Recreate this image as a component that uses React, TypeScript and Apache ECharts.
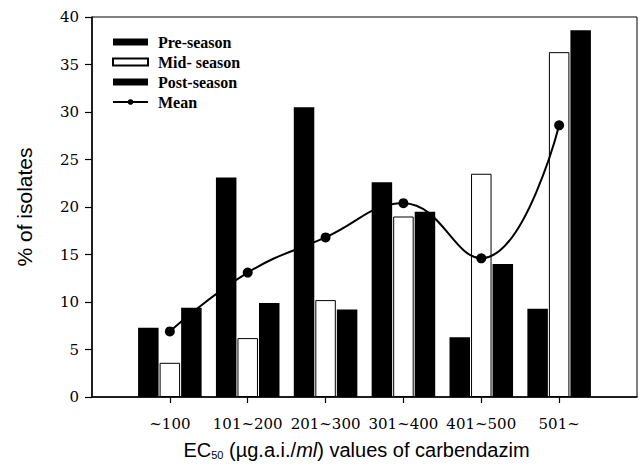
import React, { useEffect, useRef } from "react";
import * as echarts from "echarts";

const categories = ["~100", "101~200", "201~300", "301~400", "401~500", "501~"];
const categoryPositions = [1, 2, 3, 4, 5, 6];
const preSeason = [7.3, 23.1, 30.5, 22.6, 6.3, 9.3];
const midSeason = [3.6, 6.2, 10.2, 19.0, 23.5, 36.3];
const postSeason = [9.4, 9.9, 9.2, 19.5, 14.0, 38.6];
const meanValues = [6.9, 13.1, 16.8, 20.4, 14.6, 28.6];
const seriesNames = ["Pre-season", "Mid- season", "Post-season", "Mean"];

const SERIF = "'Liberation Serif', 'Times New Roman', serif";
const WIDE_SERIF = "'DejaVu Serif', serif";
const SANS = "'Liberation Sans', Arial, sans-serif";

function pairs(values: number[]) {
  return values.map((v, i) => [categoryPositions[i], v]);
}

export default function App() {
  const ref = useRef<HTMLDivElement>(null);

  useEffect(() => {
    document.body.style.margin = "0";
    if (!ref.current) return;
    const chart = echarts.init(ref.current, undefined, { renderer: "svg" });
    const barCommon = {
      type: "bar" as const,
      barWidth: 20.5,
      barGap: "5%",
    };
    chart.setOption({
      animation: false,
      backgroundColor: "#ffffff",
      grid: {
        left: 92,
        right: 7,
        top: 17,
        bottom: 78,
        show: true,
        borderColor: "#000",
        borderWidth: 1,
        backgroundColor: "transparent",
      },
      legend: {
        orient: "vertical",
        left: 112,
        top: 34,
        padding: 0,
        itemWidth: 35,
        itemHeight: 7,
        itemGap: 4,
        data: [
          { name: seriesNames[0], icon: "rect" },
          { name: seriesNames[1], icon: "rect" },
          { name: seriesNames[2], icon: "rect" },
          { name: seriesNames[3] },
        ],
        textStyle: {
          fontFamily: SERIF,
          fontWeight: "bold",
          fontSize: 16,
          color: "#000",
          lineHeight: 16,
          padding: [0, 0, 0, 5],
        },
      },
      xAxis: {
        type: "value",
        min: 0,
        max: 7,
        interval: 1,
        name: "{n|EC}{s|50}{n| (µg.a.i./}{i|ml}{n|) values of carbendazim}",
        nameLocation: "middle",
        nameGap: 43,
        nameTextStyle: {
          padding: [0, 16, 0, 0],
          rich: {
            n: { fontFamily: SANS, fontSize: 20, color: "#000" },
            i: { fontFamily: SANS, fontSize: 20, fontStyle: "italic", color: "#000" },
            s: { fontFamily: SANS, fontSize: 11, color: "#000", verticalAlign: "bottom" },
          },
        },
        axisLine: { show: true, lineStyle: { color: "#000", width: 1.5 } },
        axisTick: {
          show: true,
          inside: false,
          length: 6,
          customValues: categoryPositions,
          lineStyle: { color: "#000", width: 1.2 },
        },
        axisLabel: {
          customValues: categoryPositions,
          formatter: (v: number) => categories[Math.round(v) - 1] ?? "",
          fontFamily: WIDE_SERIF,
          fontSize: 15,
          color: "#000",
          margin: 19,
        },
        splitLine: { show: false },
      },
      yAxis: {
        type: "value",
        min: 0,
        max: 40,
        interval: 5,
        name: "% of isolates",
        nameLocation: "middle",
        nameGap: 57,
        nameTextStyle: { fontFamily: SANS, fontSize: 21, color: "#000" },
        axisLine: { show: true, lineStyle: { color: "#000", width: 1.5 } },
        axisTick: { show: true, inside: false, length: 7, lineStyle: { color: "#000", width: 1.2 } },
        axisLabel: { fontFamily: WIDE_SERIF, fontSize: 15, color: "#000", margin: 13 },
        splitLine: { show: false },
      },
      series: [
        {
          ...barCommon,
          name: seriesNames[0],
          data: pairs(preSeason),
          itemStyle: { color: "#000", borderColor: "#000", borderWidth: 0 },
        },
        {
          ...barCommon,
          name: seriesNames[1],
          data: pairs(midSeason),
          itemStyle: { color: "#fff", borderColor: "#000", borderWidth: 1 },
        },
        {
          ...barCommon,
          name: seriesNames[2],
          data: pairs(postSeason),
          itemStyle: { color: "#000", borderColor: "#000", borderWidth: 0 },
        },
        {
          type: "line",
          name: seriesNames[3],
          data: pairs(meanValues),
          smooth: 0.45,
          symbol: "circle",
          symbolSize: 10,
          z: 5,
          lineStyle: { color: "#000", width: 2 },
          itemStyle: { color: "#000" },
        },
      ],
    });
    return () => chart.dispose();
  }, []);

  return <div ref={ref} style={{ width: 644, height: 475 }} />;
}
